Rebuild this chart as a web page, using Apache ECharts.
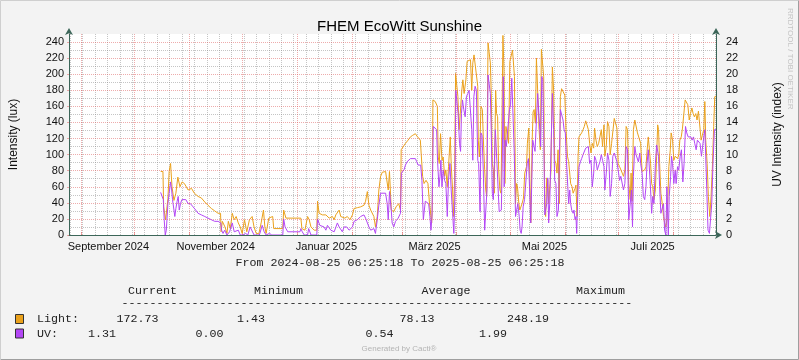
<!DOCTYPE html>
<html><head><meta charset="utf-8">
<script src="https://cdn.jsdelivr.net/npm/echarts@6/dist/echarts.min.js"></script>
<style>html,body{margin:0;padding:0;background:#f3f3f3}#c{width:799px;height:360px}</style>
</head><body><div id="c"></div>
<script>
// ---- data ----
const startTime = '2024-08-25T06:25:18Z';
const endTime = '2025-08-25T06:25:18Z';
// days since startTime, and Light intensity (lux)
const lightDays = [51.7,53.0,53.4,54.5,55.4,55.8,56.5,57.3,58.1,59.2,60.3,61.4,62.6,63.8,65.1,67.2,69.1,70.7,72.8,74.7,76.6,78.4,80.3,81.2,82.2,84.1,85.5,85.8,86.5,87.2,88.0,89.1,89.9,91.0,92.1,93.2,94.3,95.5,96.6,97.7,99.0,100.3,101.8,103.3,104.4,105.6,107.1,108.4,109.7,110.5,111.2,112.7,114.9,115.5,120.6,121.1,122.4,130.8,131.4,133.1,134.6,135.5,136.5,138.3,139.8,140.2,141.1,143.0,144.9,145.8,146.8,148.6,149.6,150.5,152.4,153.3,154.2,155.6,157.0,158.5,159.9,160.8,162.7,164.5,166.4,167.3,168.3,169.2,170.2,171.1,172.0,172.9,173.9,174.8,175.8,176.7,178.6,179.5,180.1,180.8,181.8,183.2,184.5,186.0,187.0,187.4,188.5,189.8,191.3,192.6,193.9,195.4,196.3,197.3,198.2,198.8,199.5,200.3,201.4,202.5,203.3,204.0,204.6,204.9,205.3,206.6,207.8,208.3,208.9,209.6,210.4,211.1,211.9,212.6,213.4,214.1,215.1,215.6,216.4,216.9,217.5,218.1,218.8,219.4,220.1,220.9,221.6,222.2,222.9,223.9,224.6,225.7,226.5,227.2,227.8,228.5,229.5,230.6,230.9,231.5,231.9,232.4,233.2,233.7,234.5,235.1,235.6,236.4,237.1,237.7,238.2,238.8,239.4,239.9,240.7,241.2,241.8,242.4,243.1,243.7,244.2,244.8,245.4,245.9,246.5,247.2,248.0,248.7,249.5,250.2,250.8,251.3,251.9,252.5,253.0,253.8,254.3,254.9,255.6,256.4,257.1,258.1,258.6,259.4,260.0,260.5,261.3,261.8,262.4,263.1,263.7,264.6,265.2,265.9,266.5,267.3,267.8,268.4,268.9,269.5,270.1,270.6,271.4,271.9,272.7,273.4,274.0,274.7,275.3,275.9,276.6,277.2,277.9,278.7,279.7,280.4,281.2,281.9,282.5,283.0,283.8,284.4,284.9,285.5,286.0,286.6,287.2,287.7,288.5,289.2,290.0,290.7,291.5,292.2,293.0,293.7,294.5,295.2,296.0,296.5,297.3,298.0,298.8,299.5,300.3,301.0,301.8,302.3,303.1,303.8,304.6,305.3,306.1,306.8,307.6,308.3,309.1,309.8,310.6,311.3,312.1,312.8,313.6,314.3,315.1,315.8,316.6,317.1,317.7,318.4,319.2,319.9,320.7,321.4,322.5,323.3,324.0,324.8,325.5,326.1,326.8,327.6,328.1,328.7,329.3,330.0,330.8,331.5,332.1,332.6,333.2,333.9,334.7,335.4,336.0,336.7,337.3,337.9,338.4,339.2,339.7,340.5,341.2,342.0,342.5,343.3,344.0,344.6,345.4,346.1,346.9,347.6,348.4,349.1,349.9,350.6,351.4,352.1,352.8,353.6,354.3,355.1,355.8,356.6,357.3,358.1,358.7,359.2,360.0,360.7,361.5,362.2,362.9,363.7,364.3,365.0];
const lightVals = [79,79,35,19,19,45,79,89,60,43,52,72,60,66,64,56,58,52,48,46,41,37,33,34,30,27,27,4,17,17,10,2,17,8,27,19,23,15,10,2,19,4,19,23,10,2,1.5,15,31,10,2,21,23,8,8,31,21,21,8,6,23,19,10,6,6,42,27,25,25,23,21,23,19,25,31,23,25,21,23,19,25,33,34,35,37,42,54,37,31,31,23,10,23,56,73,78,79,77,56,79,31,29,35,39,31,106,108,114,118,122,124,126,123,121,118,97,73,64,68,64,41,39,15,31,168,166,160,97,89,126,93,97,73,81,60,85,122,89,56,23,68,201,203,172,131,131,180,193,176,193,216,216,218,180,214,224,226,185,118,97,118,160,156,122,81,56,48,239,238,214,176,89,81,52,180,151,147,81,56,52,131,248.19,205,64,135,137,114,216,218,230,232,197,39,64,60,39,31,33,39,46,77,85,114,133,131,15,118,153,156,139,220,220,131,106,231,230,197,39,23,71,68,39,64,81,209,180,93,89,77,106,39,172,182,180,174,131,98,91,91,64,60,52,52,58,62,23,98,122,124,127,131,135,142,137,131,114,102,114,108,133,118,110,114,122,131,110,137,98,110,141,135,100,114,116,145,147,133,89,85,87,77,73,81,135,131,64,44,77,42,131,143,145,127,129,114,79,77,81,85,104,122,124,89,64,60,44,56,98,137,131,89,52,39,23,15,10,19,48,85,106,127,118,93,98,100,95,100,118,122,133,131,168,166,162,143,151,158,151,147,151,143,154,153,118,124,131,166,118,89,48,23,48,81,135,172,172.73];
// days since startTime, and UV index (right axis units)
const uvDays = [51.7,52.4,53.2,53.7,54.3,54.9,55.8,56.5,57.3,57.9,58.4,59.2,59.7,60.3,61.0,61.6,62.2,62.9,63.7,64.8,65.9,67.2,68.5,70.0,71.5,72.8,74.7,76.6,78.4,80.3,82.2,84.1,85.6,86.1,86.9,87.8,89.1,90.6,92.1,93.2,94.3,95.5,96.6,98.1,99.6,100.9,102.2,103.3,104.4,107.4,109.0,110.1,111.2,113.1,114.4,120.6,121.1,121.9,123.4,130.3,130.8,131.6,132.7,134.6,135.2,136.5,139.8,140.2,141.5,143.9,144.9,145.8,147.7,148.6,149.6,151.4,152.4,153.3,154.2,155.2,156.7,158.0,158.9,159.9,160.8,162.7,164.5,166.4,167.3,168.3,169.2,170.2,171.1,172.0,172.9,173.9,174.8,175.8,176.7,178.6,179.5,180.1,180.8,181.8,182.3,183.2,184.2,185.1,185.7,186.4,187.0,187.5,188.3,189.0,189.8,190.7,191.7,192.6,195.4,196.2,196.9,197.6,198.4,199.1,199.9,200.5,201.0,202.0,202.9,203.6,204.2,204.8,205.5,206.6,207.4,207.9,208.7,209.3,209.8,210.4,211.1,211.9,212.6,213.4,214.1,214.9,215.6,216.4,217.1,217.7,218.2,219.0,219.5,220.3,220.9,221.4,222.0,222.7,223.5,224.2,225.0,225.7,226.5,227.2,227.8,228.4,229.1,229.8,230.6,231.1,231.9,232.4,233.0,233.7,234.5,235.2,235.8,236.4,237.1,237.7,238.2,238.8,239.4,239.9,240.5,241.0,241.6,242.2,242.7,243.3,243.9,244.4,245.0,245.5,246.1,246.7,247.2,247.8,248.5,249.1,249.8,250.6,251.2,251.9,252.5,253.2,254.0,254.5,255.1,255.6,256.2,257.0,257.7,258.5,259.2,259.8,260.5,261.1,261.6,262.2,262.9,263.7,264.4,265.0,265.6,266.1,266.7,267.3,267.8,268.4,268.9,269.5,270.1,270.6,271.2,271.9,272.7,273.4,274.0,274.7,275.3,276.1,276.6,277.2,277.9,278.7,279.3,280.0,280.6,281.4,281.9,282.5,283.0,283.6,284.4,284.9,285.5,286.0,286.4,287.0,287.7,288.5,289.2,290.0,290.7,291.5,292.2,293.0,293.7,294.5,295.2,296.0,296.5,297.3,298.0,298.8,299.5,300.3,301.0,301.8,302.3,303.1,303.8,304.6,305.3,306.1,306.8,307.6,308.3,309.1,309.8,310.6,311.3,312.1,312.8,313.6,314.3,315.1,315.8,316.6,317.3,317.9,318.4,319.2,319.9,320.6,321.2,322.0,322.5,323.3,324.0,324.8,325.5,326.1,326.8,327.6,328.1,328.7,329.3,330.0,330.8,331.5,332.1,332.6,333.2,333.9,334.7,335.4,336.0,336.7,337.3,338.1,338.6,339.4,339.9,340.5,341.2,342.0,342.5,343.3,344.0,344.8,345.5,346.3,347.0,347.8,348.5,349.3,350.0,350.8,351.5,352.3,353.0,353.8,354.5,355.3,356.0,356.8,357.5,358.1,358.7,359.2,359.8,360.5,361.3,361.8,362.6,363.3,364.1,365.0];
const uvVals = [5.3,5.2,4.4,1.9,0,0.6,3.9,5.2,6.6,5.6,4.4,4.6,2.3,3.3,4.2,4.8,3.1,3.9,4.4,4.6,4.4,3.9,3.9,3.5,3.1,2.7,2.5,2.3,2.1,1.9,1.7,1.7,1.5,0.6,0.2,0.6,0,0.4,1.5,0.4,0.2,0.6,0,0,0.2,0,1.0,1.0,0,0,1.2,0.4,0,0.2,0,0,2.0,1.0,0.4,0.4,0.8,0.4,0,0,0.8,0,0,2.0,1.2,1.0,0.6,1.2,0.6,0.8,0.4,1.5,1.0,0.8,0.4,1.0,1.0,0.6,0.4,1.0,1.7,1.9,2.3,2.5,2.1,2.3,1.0,0.6,0.4,0.8,0.2,1.9,3.7,5.2,5.4,5.2,3.9,1.9,5.4,3.1,1.5,1.0,1.7,1.7,2.1,1.9,2.7,7.7,7.7,8.1,8.7,9.1,9.3,9.5,9.5,9.1,8.7,8.9,8.7,6.8,1.9,1.7,4.2,4.2,3.9,2.3,0.6,2.3,13.5,13.5,13.1,9.3,6.0,7.3,9.3,6.0,8.1,6.8,6.4,2.3,6.8,8.9,5.6,2.7,0.2,4.8,18.0,17.8,15.1,11.4,10.4,15.1,16.8,15.6,14.7,17.2,17.6,18.0,18.2,13.1,9.3,17.2,18.5,18.0,9.3,8.9,2.9,12.7,12.4,8.1,0.6,0.4,5.6,19.9,19.9,17.6,13.1,5.2,4.4,4.4,13.1,11.0,11.2,5.2,2.9,2.7,3.1,8.9,19.7,6.0,11.8,11.0,11.2,11.0,15.6,16.2,19.5,19.7,10.2,2.3,2.5,3.9,2.3,0.6,0.2,1.0,3.5,4.4,4.6,8.9,9.5,6.0,1.5,6.8,11.8,11.6,10.4,14.3,17.6,17.6,13.1,11.0,19.7,19.3,13.1,2.5,2.3,3.9,7.1,1.5,3.9,3.9,17.6,13.1,6.8,6.4,2.3,3.1,8.9,15.6,15.6,14.3,13.1,12.7,9.3,6.0,3.9,5.6,3.9,3.1,2.7,3.1,1.9,2.3,0.2,4.8,8.5,9.1,9.5,10.0,10.2,10.8,10.6,11.0,8.9,9.3,6.0,7.7,9.8,9.3,8.1,7.9,9.1,10.0,9.3,8.5,5.6,7.7,10.2,9.3,4.8,6.4,9.8,10.2,10.0,9.1,8.1,6.8,7.3,7.1,5.6,6.4,11.0,10.6,1.9,1.7,5.6,1.0,7.3,11.0,10.0,9.8,9.1,10.2,8.9,7.7,4.8,4.4,6.0,8.9,10.6,10.4,5.6,2.7,4.8,3.9,8.9,11.2,11.0,9.8,6.0,2.7,2.5,3.9,0.6,0,6.0,0,4.8,7.3,9.8,8.9,6.4,8.1,6.4,8.5,8.1,9.8,10.6,6.6,8.9,13.5,12.7,12.2,12.0,12.2,11.8,12.2,11.4,10.6,11.8,12.0,11.4,9.8,10.0,12.2,13.1,9.8,5.6,0.6,0.2,0.1,3.9,8.9,13.1,13.1];
const monthStarts = ['2024-09-01','2024-10-01','2024-11-01','2024-12-01','2025-01-01','2025-02-01','2025-03-01','2025-04-01','2025-05-01','2025-06-01','2025-07-01','2025-08-01'];
const firstWeekStart = '2024-08-26';
const xLabelDates = ['2024-09-16T12:00:00Z','2024-11-16T00:00:00Z','2025-01-17T12:00:00Z','2025-03-19T12:00:00Z','2025-05-20T12:00:00Z','2025-07-20T12:00:00Z'];
const xLabelTexts = ['September 2024','November 2024','Januar 2025','März 2025','Mai 2025','Juli 2025'];
const leftTicks = [0,20,40,60,80,100,120,140,160,180,200,220,240];
const leftMinorTicks = [10,30,50,70,90,110,130,150,170,190,210,230];
const rightTicks = [0,2,4,6,8,10,12,14,16,18,20,22,24];
const legendRows = [
  {name:'Light:', color:'#EAA11C', cur:'172.73', min:'1.43', avg:'78.13', max:'248.19'},
  {name:'UV:', color:'#B347F5', cur:'1.31', min:'0.00', avg:'0.54', max:'1.99'}
];

// ---- build ----
const DAY = 86400000;
const t0 = Date.parse(startTime), t1 = Date.parse(endTime);
const toT = d => t0 + d * DAY;
const lightData = lightDays.map((d, i) => [toT(d), lightVals[i]]);
const uvData = uvDays.map((d, i) => [toT(d), uvVals[i]]);
const monthT = monthStarts.map(s => Date.parse(s + 'T00:00:00Z'));
const weekT = [];
for (let t = Date.parse(firstWeekStart + 'T00:00:00Z'); t < t1; t += 7 * DAY) weekT.push(t);
const labelT = xLabelDates.map(s => Date.parse(s));
const labelMap = {}; labelT.forEach((t, i) => labelMap[t] = xLabelTexts[i]);

const AX = '#3c6659';
const MGRID = 'rgba(222,90,90,0.5)';
const GRID = 'rgba(140,140,140,0.5)';
const SANS = '"Liberation Sans", Arial, sans-serif';
const MONO = '"Liberation Mono", monospace';
const HIDDEN_TICK = {show:true, length:0, lineStyle:{color:'rgba(0,0,0,0)', width:0}};

const chart = echarts.init(document.getElementById('c'), null, {renderer: 'canvas'});
const monoFont = '11.67px ' + MONO;
const g = [];
g.push({type:'polyline', shape:{points:[[0.5,359],[0.5,0.5],[798.5,0.5]]}, style:{stroke:'#cfcfcf', lineWidth:1, fill:null}});
g.push({type:'polyline', shape:{points:[[798.5,0.5],[798.5,359.5],[0.5,359.5]]}, style:{stroke:'#9e9e9e', lineWidth:1, fill:null}});
g.push({type:'text', x:790, y:8, rotation:-Math.PI/2, style:{text:'RRDTOOL / TOBI OETIKER', font:'8px ' + SANS, fill:'#c4c4c4', textAlign:'left', textVerticalAlign:'middle'}});
g.push({type:'text', x:400, y:263, style:{text:'From 2024-08-25 06:25:18 To 2025-08-25 06:25:18', font:monoFont, fill:'#222', textAlign:'center', textVerticalAlign:'middle'}});
const hdr = [['Current',128],['Minimum',254],['Average',421.5],['Maximum',576]];
hdr.forEach(h => g.push({type:'text', x:h[1], y:291, style:{text:h[0], font:monoFont, fill:'#222', textVerticalAlign:'middle'}}));
g.push({type:'text', x:121.5, y:303, style:{text:'-'.repeat(73), font:monoFont, fill:'#222', textVerticalAlign:'middle'}});
const colX = [[116.5,237,399.5,507],[88,195.5,365.5,479]];
legendRows.forEach((r, i) => {
  const y = 319 + i * 14.5;
  g.push({type:'rect', shape:{x:15.5, y:y-4.5, width:8, height:9}, style:{fill:r.color, stroke:'#333', lineWidth:1}});
  g.push({type:'text', x:37, y:y, style:{text:r.name, font:monoFont, fill:'#222', textVerticalAlign:'middle'}});
  [r.cur, r.min, r.avg, r.max].forEach((v, j) => g.push({type:'text', x:colX[i][j], y:y, style:{text:v, font:monoFont, fill:'#222', textVerticalAlign:'middle'}}));
});
g.push({type:'text', x:399, y:349, style:{text:'Generated by Cacti®', font:'8px ' + SANS, fill:'#b4b4b4', textAlign:'center', textVerticalAlign:'middle'}});

const baseX = {type:'value', min:t0, max:t1, gridIndex:0};
const option = {
  backgroundColor:'#f3f3f3',
  animation:false,
  title:{text:'FHEM EcoWitt Sunshine', left:'center', top:14, textStyle:{fontFamily:SANS, fontSize:15, fontWeight:'normal', color:'#000'}},
  grid:{left:67, top:34, width:649, height:201, show:true, backgroundColor:'#ffffff', borderWidth:0},
  xAxis:[
    Object.assign({}, baseX, {
      z:5,
      axisLine:{show:true, lineStyle:{color:AX, width:1}, symbol:['none','arrow'], symbolSize:[6,7], symbolOffset:[0,6]},
      axisTick:{show:false, customValues:labelT},
      splitLine:{show:false},
      axisLabel:{show:true, customValues:labelT, formatter:v => labelMap[v] || '', color:'#111', fontFamily:SANS, fontSize:11, margin:6}
    }),
    Object.assign({}, baseX, {
      z:1,
      axisLine:{show:false}, axisLabel:{show:false},
      axisTick:Object.assign({customValues:weekT}, HIDDEN_TICK),
      splitLine:{show:true, lineStyle:{color:GRID, width:1, type:[1,1]}}
    }),
    Object.assign({}, baseX, {
      z:2,
      axisLine:{show:false}, axisLabel:{show:false},
      axisTick:{show:true, customValues:monthT, length:3, lineStyle:{color:MGRID}},
      splitLine:{show:true, lineStyle:{color:MGRID, width:1, type:[1,1]}}
    })
  ],
  yAxis:[
    {type:'value', min:0, max:250, position:'left', z:5,
     axisLine:{show:true, lineStyle:{color:AX, width:1}, symbol:['none','arrow'], symbolSize:[6,7], symbolOffset:[0,6]},
     axisTick:{show:true, customValues:leftTicks, length:2, lineStyle:{color:MGRID}},
     axisLabel:{show:true, customValues:leftTicks, color:'#111', fontFamily:SANS, fontSize:11, margin:5},
     splitLine:{show:true, lineStyle:{color:MGRID, width:1, type:[1,1]}},
     name:'Intensity (lux)', nameLocation:'middle', nameGap:49, nameRotate:90,
     nameTextStyle:{fontFamily:SANS, fontSize:12, color:'#111'}},
    {type:'value', min:0, max:25, position:'right', z:5,
     axisLine:{show:true, lineStyle:{color:AX, width:1}, symbol:['none','arrow'], symbolSize:[6,7], symbolOffset:[0,6]},
     axisTick:{show:false, customValues:rightTicks},
     axisLabel:{show:true, customValues:rightTicks, color:'#111', fontFamily:SANS, fontSize:11, margin:10},
     splitLine:{show:false},
     name:'UV Intensity (index)', nameLocation:'middle', nameGap:56, nameRotate:90,
     nameTextStyle:{fontFamily:SANS, fontSize:12, color:'#111'}},
    {type:'value', min:0, max:250, position:'left', z:1,
     axisLine:{show:false}, axisLabel:{show:false},
     axisTick:Object.assign({customValues:leftMinorTicks}, HIDDEN_TICK),
     splitLine:{show:true, lineStyle:{color:GRID, width:1, type:[1,1]}}}
  ],
  series:[
    {name:'Light', type:'line', xAxisIndex:0, yAxisIndex:0, data:lightData, showSymbol:false, symbol:'none',
     lineStyle:{color:legendRows[0].color, width:1}, itemStyle:{color:legendRows[0].color}, z:3},
    {name:'UV', type:'line', xAxisIndex:0, yAxisIndex:1, data:uvData, showSymbol:false, symbol:'none',
     lineStyle:{color:legendRows[1].color, width:1}, itemStyle:{color:legendRows[1].color}, z:4}
  ],
  graphic:g
};
chart.setOption(option);
</script></body></html>
